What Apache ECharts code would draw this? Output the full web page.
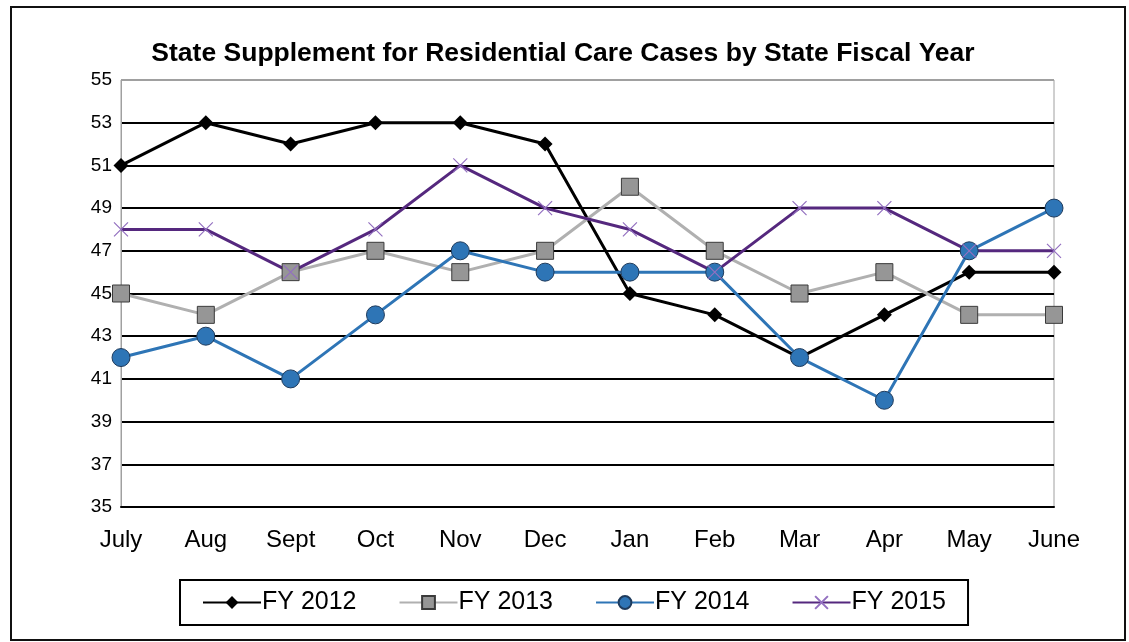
<!DOCTYPE html>
<html>
<head>
<meta charset="utf-8">
<script src="https://cdn.jsdelivr.net/npm/echarts@6/dist/echarts.min.js"></script>
<style>
  html, body { margin: 0; padding: 0; background: #fff; }
  #main { width: 1129px; height: 642px; }
</style>
</head>
<body>
<div id="main"></div>
<script>
// months of the state fiscal year
var months = ['July', 'Aug', 'Sept', 'Oct', 'Nov', 'Dec', 'Jan', 'Feb', 'Mar', 'Apr', 'May', 'June'];
var yTicks = [35, 37, 39, 41, 43, 45, 47, 49, 51, 53, 55];

var fy2012 = [51, 53, 52, 53, 53, 52, 45, 44, 42, 44, 46, 46];
var fy2013 = [45, 44, 46, 47, 46, 47, 50, 47, 45, 46, 44, 44];
var fy2014 = [42, 43, 41, 44, 47, 46, 46, 46, 42, 40, 47, 49];
var fy2015 = [48, 48, 46, 48, 51, 49, 48, 46, 49, 49, 47, 47];

var chart = echarts.init(document.getElementById('main'));

// grid lines black, top one grey like the plot border
var splitColors = yTicks.map(function (v) { return v === 55 ? '#a0a0a0' : '#000'; });

var font = 'Arial, "Liberation Sans", sans-serif';

var option = {
  backgroundColor: '#fff',
  animation: false,
  title: {
    text: 'State Supplement for Residential Care Cases by State Fiscal Year',
    left: 558,
    textAlign: 'center',
    top: 35,
    textStyle: { fontFamily: font, fontSize: 26.5, fontWeight: 'bold', color: '#000' }
  },
  graphic: [{
    type: 'rect',
    shape: { x: 11, y: 7, width: 1114, height: 633 },
    style: { fill: 'none', stroke: '#111', lineWidth: 2 },
    silent: true
  }],
  grid: {
    left: 121, right: 75, top: 80, bottom: 135,
    show: true, borderColor: '#a0a0a0', borderWidth: 1
  },
  legend: {
    left: 180, top: 580,
    width: 800,
    borderColor: '#000', borderWidth: 2,
    padding: [10, 22, 10, 22],
    itemGap: 42,
    itemWidth: 58, itemHeight: 16,
    textStyle: { fontFamily: font, fontSize: 25, color: '#000', padding: [0, 0, 0, -4] },
    data: ['FY 2012', 'FY 2013', 'FY 2014', 'FY 2015']
  },
  xAxis: {
    type: 'category',
    data: months,
    boundaryGap: false,
    axisLine: { lineStyle: { color: '#000', width: 2 } },
    axisTick: { show: false },
    axisLabel: { fontFamily: font, fontSize: 24, color: '#000', margin: 21 },
    splitLine: { show: false }
  },
  yAxis: {
    type: 'value',
    min: 35, max: 55, interval: 2,
    axisLine: { show: true, lineStyle: { color: '#a0a0a0', width: 1 } },
    axisTick: { show: false },
    axisLabel: { fontFamily: font, fontSize: 19, color: '#000', margin: 9 },
    splitLine: { lineStyle: { color: splitColors, width: 2 } }
  },
  series: [
    {
      name: 'FY 2012', type: 'line', data: fy2012,
      symbol: 'diamond', symbolSize: 15,
      lineStyle: { color: '#000', width: 3 },
      itemStyle: { color: '#000' }
    },
    {
      name: 'FY 2013', type: 'line', data: fy2013,
      symbol: 'rect', symbolSize: 17,
      lineStyle: { color: '#b0b0b0', width: 3 },
      itemStyle: { color: '#969696', borderColor: '#3a3a3a', borderWidth: 1 }
    },
    {
      name: 'FY 2014', type: 'line', data: fy2014,
      symbol: 'circle', symbolSize: 18,
      lineStyle: { color: '#2e75b6', width: 3 },
      itemStyle: { color: '#2e75b6', borderColor: '#1f3b5c', borderWidth: 1 }
    },
    {
      name: 'FY 2015', type: 'line', data: fy2015,
      symbol: 'path://M0,0L10,10M10,0L0,10', symbolSize: 14,
      lineStyle: { color: '#55287e', width: 3 },
      itemStyle: { color: 'none', borderColor: '#9370c0', borderWidth: 1.2 }
    }
  ]
};

chart.setOption(option);
</script>
</body>
</html>
